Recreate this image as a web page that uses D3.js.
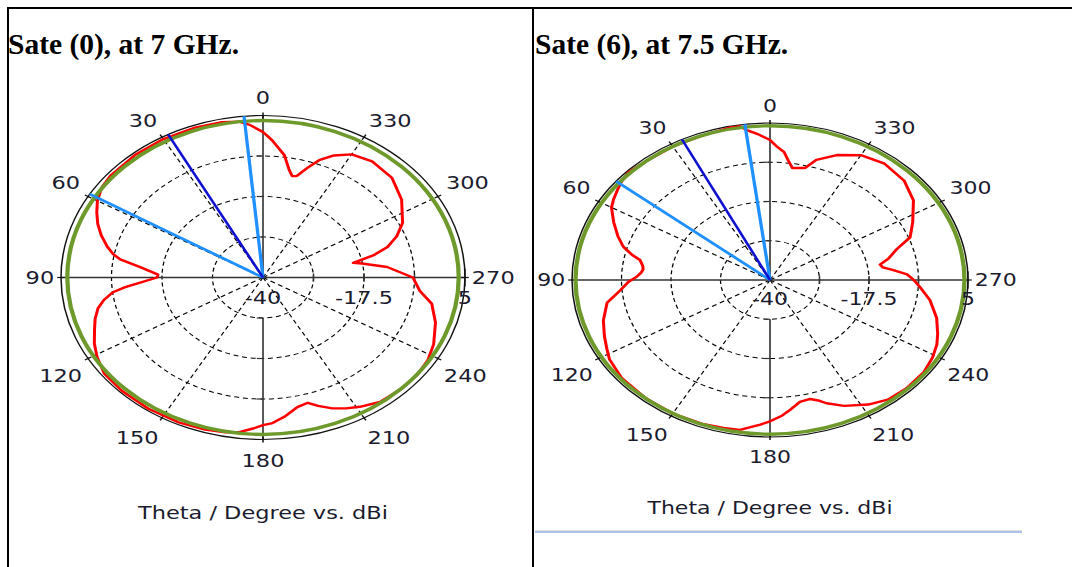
<!DOCTYPE html>
<html><head><meta charset="utf-8">
<script src="https://cdn.jsdelivr.net/npm/d3@7"></script>
<style>body{margin:0;background:#fff;overflow:hidden} svg{display:block}</style>
</head><body>
<svg id="c" width="1072" height="567"></svg>
<script>
// ---------- data ----------
const angleTicks = [0,30,60,90,120,150,180,210,240,270,300,330];
const radialTicks = [-40,-28.75,-17.5,-6.25,5];
const radialLabels = ["-40","-17.5","5"];
const radialLabelValues = [-40,-17.5,5];
const titles = ["Sate (0), at 7 GHz.", "Sate (6), at 7.5 GHz."];
const caption = "Theta / Degree vs. dBi";

// State (0), 7 GHz : theta (deg) and gain (dBi)
const theta7 = [0,4,7,12,20,30,40,50,55,60,64,68,72,76,79,81,84,88,90,93,95,97,100,103,107,111,116,121,127,135,145,155,163,169,173,177,180,183,187,192,196,199,203,207,211,217,225,232,238,244,252,259,264,270,276,280,281.5,284,287,291,296,305,314,323,330,335,339,342,345,347,349,352,357];
const gain7  = [0.4,2.5,3.6,4.1,4.3,4.4,4.4,4.2,3.8,2.6,1.2,-0.3,-2.1,-4.2,-6.0,-7.8,-12.5,-16.6,-16.4,-12.6,-9.2,-6.3,-4.0,-2.3,-0.9,0.2,1.8,3.1,4.3,4.5,4.5,4.4,4.2,3.8,3.3,2.0,1.0,0.5,-1.0,-3.2,-3.8,-2.3,-0.5,0.8,1.9,3.3,3.7,3.7,3.3,2.3,0.4,-1.7,-4.9,-6.6,-12.2,-17.6,-19.5,-14.7,-11.0,-8.1,-5.4,-2.3,-0.1,0.4,-0.5,-2.6,-5.1,-8.0,-10.8,-11.1,-9.5,-5.7,-1.8];

// State (6), 7.5 GHz
const theta75 = [0,4,7,9,12,20,30,40,46,50,53,57,60,65,70,74,77,79,82,84,86,88,91,95,100,107,113,118,122,130,140,150,160,166,171,174,177,180,184,187,191,195,198,200,205,212,218,225,233,239,244,248,254,261,266,270,273,276,278,280,283,287,291,297,305,313,322,330,337,343,346,351,353,355,358];
const gain75  = [0.1,2.0,3.3,4.6,4.6,4.2,4.2,4.2,4.6,4.0,3.3,2.4,1.6,-0.8,-3.2,-5.3,-7.8,-9.9,-10.8,-11.0,-10.6,-9.8,-7.8,-5.8,-2.4,-0.4,0.9,2.0,3.0,3.9,4.1,4.2,4.0,3.7,3.5,2.4,1.5,0.5,-1.0,-2.5,-4.4,-4.7,-3.6,-2.4,-0.2,2.1,3.5,3.9,3.8,3.1,2.2,1.1,-0.6,-3.2,-5.6,-7.3,-8.8,-12.0,-14.1,-14.6,-12.3,-9.9,-5.9,-3.6,-0.2,1.7,2.3,1.3,-1.1,-4.0,-6.9,-7.5,-5.6,-3.2,-1.5];

// reference (green) level, main-lobe direction and beam-width edges
const refLevel = [3.6, 4.2];
const mainLobe = [28, 26.4];
const beamEdges = [[5.4, 59], [7.3, 51]];

// ---------- layout ----------
const svg = d3.select("#c");
const charts = [
  {cx:263, cy:277.5, R:162, sx:202/162, theta:theta7, gain:gain7, ref:refLevel[0], main:mainLobe[0], edges:beamEdges[0], tx:8, title:titles[0]},
  {cx:770, cy:280, R:157, sx:198/157, theta:theta75, gain:gain75, ref:refLevel[1], main:mainLobe[1], edges:beamEdges[1], tx:535, title:titles[1]}
];

// table borders
svg.append("line").attr("x1",7).attr("x2",1072).attr("y1",8).attr("y2",8).attr("stroke","#000").attr("stroke-width",2);
svg.append("line").attr("x1",8).attr("x2",8).attr("y1",7).attr("y2",567).attr("stroke","#000").attr("stroke-width",2);
svg.append("line").attr("x1",533).attr("x2",533).attr("y1",7).attr("y2",567).attr("stroke","#000").attr("stroke-width",2);
svg.append("line").attr("x1",535).attr("x2",1022).attr("y1",530.5).attr("y2",530.5).attr("stroke","#e2e2e2").attr("stroke-width",1);
svg.append("line").attr("x1",535).attr("x2",1022).attr("y1",532).attr("y2",532).attr("stroke","#8eaee0").attr("stroke-width",1.5);

const rad = a => a*Math.PI/180;

charts.forEach(c => {
  svg.append("text").attr("x",c.tx).attr("y",54)
    .attr("font-family","'Liberation Serif','Times New Roman',serif")
    .attr("font-weight","bold").attr("font-size",29.5).attr("fill","#000")
    .text(c.title);

  const k = c.R/162;
  const r = d3.scaleLinear().domain([-40,5]).range([0,c.R]);
  const px = (a,v) => -r(v)*Math.sin(rad(a));
  const py = (a,v) => -r(v)*Math.cos(rad(a));
  const g = svg.append("g").attr("transform",`translate(${c.cx},${c.cy}) scale(${c.sx},1)`);

  // dashed rings
  g.selectAll(".ring").data(radialTicks.slice(1,4)).join("circle")
    .attr("r",d=>r(d)).attr("fill","none").attr("stroke","#000").attr("stroke-width",1)
    .attr("stroke-dasharray","4,3");
  // dashed spokes
  g.selectAll(".spoke").data(angleTicks.filter(a=>a%90!==0)).join("line")
    .attr("x1",0).attr("y1",0).attr("x2",a=>px(a,5)).attr("y2",a=>py(a,5))
    .attr("stroke","#000").attr("stroke-width",1).attr("stroke-dasharray","4,3");
  // axes
  g.append("line").attr("x1",-c.R).attr("x2",c.R).attr("y1",0).attr("y2",0).attr("stroke","#333").attr("stroke-width",1.3);
  g.append("line").attr("x1",0).attr("x2",0).attr("y1",0).attr("y2",-c.R).attr("stroke","#333").attr("stroke-width",1.3);
  g.append("line").attr("x1",0).attr("x2",0).attr("y1",r(radialTicks[1])).attr("y2",c.R).attr("stroke","#333").attr("stroke-width",1.3);
  // axis ticks
  g.selectAll(".ht").data(radialTicks.slice(1,4)).join("line")
    .attr("x1",d=>r(d)).attr("x2",d=>r(d)).attr("y1",-4).attr("y2",4).attr("stroke","#333").attr("stroke-width",1.2);
  g.append("line").attr("x1",c.R).attr("x2",c.R).attr("y1",-9*k).attr("y2",9*k).attr("stroke","#333").attr("stroke-width",1.2);
  g.selectAll(".vt").data(radialTicks.slice(1,4)).join("line")
    .attr("x1",-5).attr("x2",0).attr("y1",d=>-r(d)).attr("y2",d=>-r(d)).attr("stroke","#333").attr("stroke-width",1.2);
  g.selectAll(".vb").data(radialTicks.slice(1,4)).join("line")
    .attr("x1",-5).attr("x2",0).attr("y1",d=>r(d)).attr("y2",d=>r(d)).attr("stroke","#333").attr("stroke-width",1.2);
  // outer ring + ticks
  g.append("circle").attr("r",c.R).attr("fill","none").attr("stroke","#111").attr("stroke-width",1.2);
  g.selectAll(".ot").data(angleTicks).join("line")
    .attr("x1",a=>-(c.R-3)*Math.sin(rad(a))).attr("y1",a=>-(c.R-3)*Math.cos(rad(a)))
    .attr("x2",a=>-(c.R+3)*Math.sin(rad(a))).attr("y2",a=>-(c.R+3)*Math.cos(rad(a)))
    .attr("stroke","#111").attr("stroke-width",1.2);

  // red pattern
  const pts = c.theta.map((t,i)=>({t, v:c.gain[i]}));
  const line = d3.lineRadial().angle(d=>-rad(d.t)).radius(d=>r(d.v)).curve(d3.curveLinearClosed);
  g.append("path").attr("d",line(pts)).attr("fill","none").attr("stroke","#ff0000").attr("stroke-width",2.4).attr("stroke-linejoin","round");
  // green reference ring
  g.append("circle").attr("r",r(c.ref)).attr("fill","none").attr("stroke","#6e9a2c").attr("stroke-width",3.4);
  // beam lines
  c.edges.forEach(a=>{
    g.append("line").attr("x1",0).attr("y1",0).attr("x2",px(a,5)).attr("y2",py(a,5))
      .attr("stroke","#1e90ff").attr("stroke-width",2.6);
  });
  g.append("line").attr("x1",0).attr("y1",0).attr("x2",px(c.main,5)).attr("y2",py(c.main,5))
    .attr("stroke","#1010d0").attr("stroke-width",2.2);

  // text
  const fs = 18*k;
  const font = "'DejaVu Sans',Verdana,sans-serif";
  const rho = c.R + 8*k;
  g.selectAll(".al").data(angleTicks).join("text")
    .attr("x",a=>{
      const upper = Math.cos(rad(a)) > 0.01;
      return -(rho - (upper ? 0.5 : 2.5)*k)*Math.sin(rad(a));
    })
    .attr("y",a=>{
      const y = -rho*Math.cos(rad(a));
      if (a===90 || a===270) return y + 0.36*fs;
      return Math.cos(rad(a))>0 ? y - 3.5*k : y + 0.73*fs + 6*k;
    })
    .attr("text-anchor",a=> (a===0||a===180) ? "middle" : (a<180 ? "end" : "start"))
    .attr("font-family",font).attr("font-size",fs).attr("fill","#1b1b2e")
    .text(a=>String(a));
  g.selectAll(".rl").data(radialLabelValues).join("text")
    .attr("x",d=>r(d)).attr("y",20*k).attr("text-anchor","middle").attr("dominant-baseline","central")
    .attr("font-family",font).attr("font-size",fs).attr("fill","#1b1b2e")
    .text((d,i)=>radialLabels[i]);
  g.append("text").attr("x",0).attr("y",1.454*c.R).attr("text-anchor","middle").attr("dominant-baseline","central")
    .attr("font-family",font).attr("font-size",fs).attr("fill","#1b1b2e").text(caption);
});
</script>
</body></html>
